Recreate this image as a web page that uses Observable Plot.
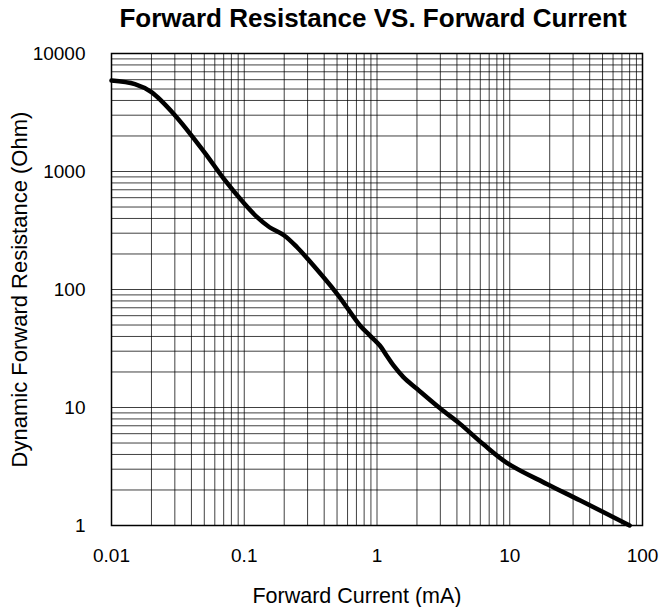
<!DOCTYPE html>
<html><head><meta charset="utf-8">
<script src="https://cdn.jsdelivr.net/npm/d3@7"></script>
<script src="https://cdn.jsdelivr.net/npm/@observablehq/plot@0.6"></script>
<style>
body{margin:0;background:#fff;font-family:Arial,"Liberation Sans",sans-serif;}
#title{height:40px;line-height:37px;text-align:center;font-weight:bold;font-size:26px;padding-left:104px;padding-right:20px;color:#000;white-space:nowrap;}
#chart svg{display:block;}
</style></head><body>
<div id="title">Forward Resistance VS. Forward Current</div>
<div id="chart"></div>
<script>
const current = [0.01, 0.015, 0.02, 0.03, 0.05, 0.07, 0.1, 0.125, 0.155, 0.2, 0.25, 0.3, 0.5, 0.745, 0.885, 1.05, 1.18, 1.33, 1.58, 2, 3, 4.2, 6.3, 9.5, 19, 34, 80];
const resistance = [5900, 5500, 4700, 3000, 1460, 870, 535, 410, 337, 287, 228, 182, 92, 49.5, 40.7, 33.5, 27.6, 22.7, 18.1, 14.4, 9.8, 7.3, 4.9, 3.4, 2.25, 1.63, 1.0];
const xTicks = [0.01, 0.1, 1, 10, 100];
const yTicks = [1, 10, 100, 1000, 10000];
const xLabel = "Forward Current (mA)";
const yLabel = "Dynamic Forward Resistance (Ohm)";

const data = current.map((c, i) => ({current: c, resistance: resistance[i]}));
const minorOf = (decades) => decades.slice(0, -1).flatMap(d => d3.range(1, 10).map(k => d * k)).concat(decades.slice(-1));
const gridX = minorOf(xTicks);
const gridY = minorOf(yTicks);

const chart = Plot.plot({
  width: 662,
  height: 567,
  marginTop: 13,
  marginBottom: 82,
  marginLeft: 111,
  marginRight: 20,
  style: {fontSize: "19px", fontFamily: "Arial, 'Liberation Sans', sans-serif", color: "#000", background: "#fff"},
  x: {type: "log", domain: [0.01, 100]},
  y: {type: "log", domain: [1, 10000]},
  marks: [
    Plot.ruleX(gridX, {stroke: "#000", strokeOpacity: 0.75, strokeWidth: 1}),
    Plot.ruleY(gridY, {stroke: "#000", strokeOpacity: 0.75, strokeWidth: 1}),
    Plot.frame({stroke: "#000", strokeWidth: 1.5}),
    Plot.axisX({ticks: xTicks, tickSize: 0, tickPadding: 23, tickFormat: d => String(d), fontSize: 19, label: null}),
    Plot.text([xLabel], {frameAnchor: "bottom", dy: 77, dx: -20, lineAnchor: "bottom", fontSize: 21.5, fill: "#000"}),
    Plot.axisY({ticks: yTicks, tickSize: 0, tickPadding: 26, tickFormat: d => String(d), fontSize: 19, label: null}),
    Plot.axisY({ticks: [], tickSize: 0, label: yLabel, labelAnchor: "center", labelArrow: "none", labelOffset: 100, fontSize: 22}),
    Plot.line(data, {x: "current", y: "resistance", stroke: "#000", strokeWidth: 4.5, curve: "catmull-rom"})
  ]
});
document.getElementById("chart").appendChild(chart);
</script>
</body></html>
